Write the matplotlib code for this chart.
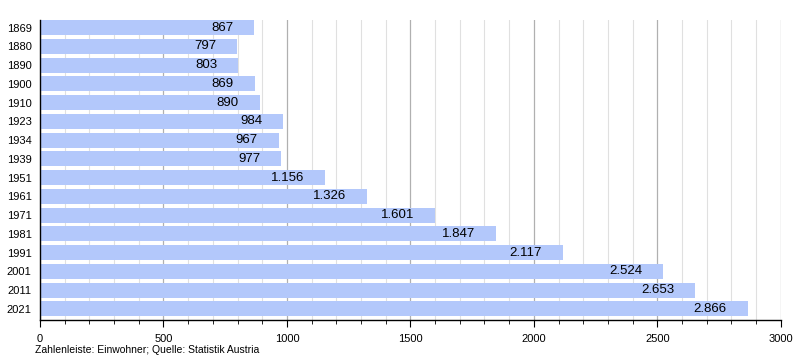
import matplotlib.pyplot as plt
from matplotlib.ticker import MultipleLocator

years = ['1869', '1880', '1890', '1900', '1910', '1923', '1934', '1939',
         '1951', '1961', '1971', '1981', '1991', '2001', '2011', '2021']
population = [867, 797, 803, 869, 890, 984, 967, 977,
              1156, 1326, 1601, 1847, 2117, 2524, 2653, 2866]

plt.rcParams['font.family'] = ['Liberation Sans', 'DejaVu Sans']

fig = plt.figure(figsize=(8, 3.6), dpi=100)
ax = fig.add_axes([0.05, 0.111, 0.926, 0.833])

pos = list(range(len(years)))
ax.barh(pos, population, height=0.8, color='#b3c8fb', zorder=2)

for p, v in zip(pos, population):
    label = f'{v:,}'.replace(',', '.')
    ax.annotate(label, (v, p), xytext=(-15, 0), textcoords='offset points',
                ha='right', va='center', fontsize=9.5, color='black', zorder=3)

ax.set_xlim(0, 3000)
ax.set_ylim(len(years) - 0.4, -0.4)
ax.set_yticks(pos)
ax.set_yticklabels(years, fontsize=8)
ax.tick_params(axis='y', length=0, pad=6)

ax.xaxis.set_major_locator(MultipleLocator(500))
ax.xaxis.set_minor_locator(MultipleLocator(100))
ax.tick_params(axis='x', which='major', length=5, labelsize=8, pad=5)
ax.tick_params(axis='x', which='minor', length=3)
ax.grid(True, which='major', axis='x', color='#b0b0b0', linewidth=0.9, zorder=0)
ax.grid(True, which='minor', axis='x', color='#e0e0e0', linewidth=0.8, zorder=0)
ax.set_axisbelow(True)

for s in ['top', 'right']:
    ax.spines[s].set_visible(False)
ax.spines['left'].set_linewidth(1)
ax.spines['bottom'].set_linewidth(1)

fig.text(0.044, 0.02, 'Zahlenleiste: Einwohner; Quelle: Statistik Austria', fontsize=7.5)

fig.savefig('out.png', dpi=100)
